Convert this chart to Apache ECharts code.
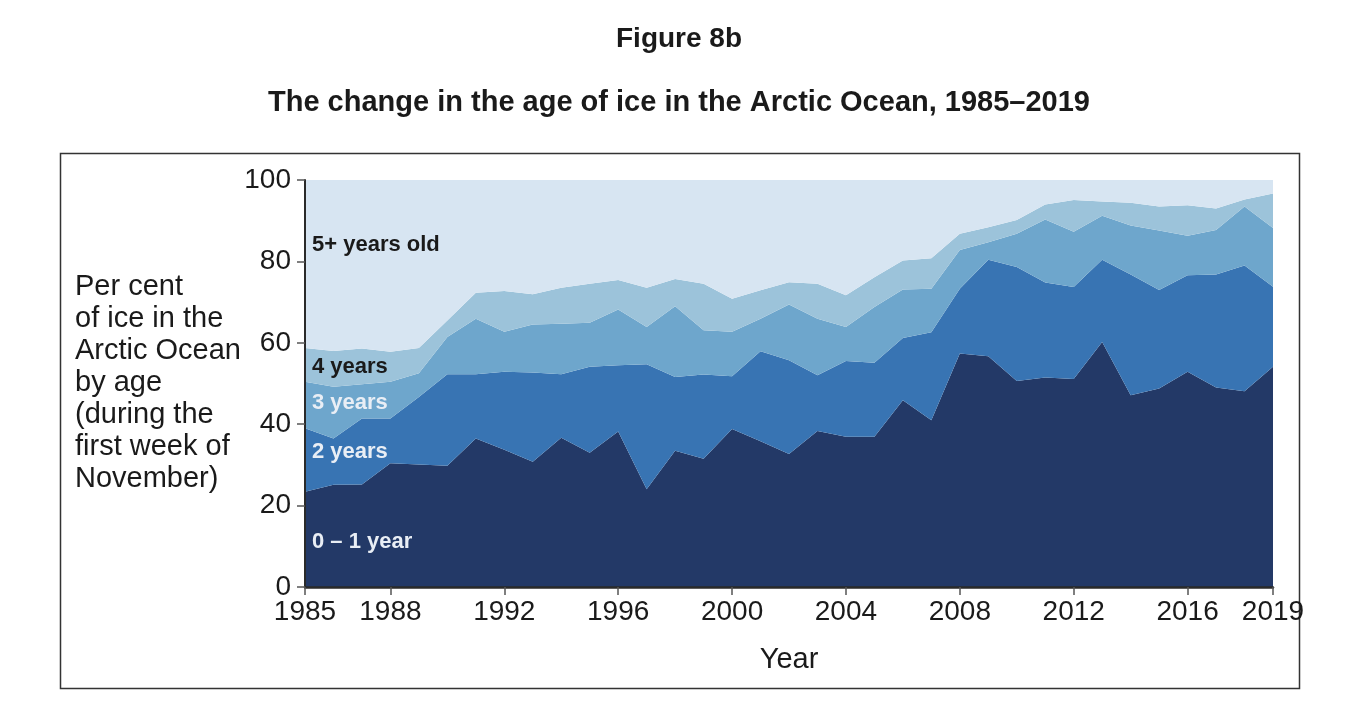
<!DOCTYPE html>
<html>
<head>
<meta charset="utf-8">
<script src="https://cdn.jsdelivr.net/npm/echarts@6/dist/echarts.min.js"></script>
<style>
  html, body { margin: 0; padding: 0; background: #fff; }
  #main { width: 1358px; height: 706px; }
</style>
</head>
<body>
<div id="main"></div>
<script>
var years = [];
for (var y = 1985; y <= 2019; y++) years.push(String(y));

var tickYears = ['1985', '1988', '1992', '1996', '2000', '2004', '2008', '2012', '2016', '2019'];

// per cent of ice by age (layer values, stacked bottom to top)
var age01 = [23.4, 25.1, 25.2, 30.4, 30.1, 29.8, 36.5, 33.7, 30.8, 36.7, 33.0, 38.2, 24.0, 33.5, 31.5, 38.8, 35.8, 32.7, 38.3, 36.9, 36.9, 45.9, 41.0, 57.4, 56.7, 50.6, 51.5, 51.1, 60.2, 47.1, 48.8, 52.9, 49.0, 48.1, 54.1];
var age2 = [15.6, 11.4, 16.2, 11.0, 16.6, 22.5, 15.8, 19.2, 21.9, 15.6, 21.1, 16.3, 30.7, 18.1, 20.7, 13.0, 22.1, 23.0, 13.7, 18.6, 18.2, 15.3, 21.6, 15.9, 23.7, 28.0, 23.3, 22.6, 20.2, 29.7, 24.2, 23.7, 27.8, 30.9, 19.7];
var age3 = [11.4, 12.7, 8.4, 9.0, 5.8, 9.1, 13.6, 9.8, 11.8, 12.4, 10.8, 13.7, 9.2, 17.4, 10.9, 10.9, 8.0, 13.7, 13.9, 8.4, 13.7, 11.9, 10.7, 9.5, 4.3, 8.2, 15.5, 13.6, 10.8, 12.0, 14.6, 9.7, 10.9, 14.5, 14.4];
var age4 = [8.3, 8.8, 8.8, 7.4, 6.2, 4.1, 6.4, 10.0, 7.4, 8.8, 9.6, 7.2, 9.6, 6.7, 11.4, 8.1, 7.0, 5.5, 8.6, 7.8, 7.3, 7.1, 7.5, 4.0, 3.7, 3.4, 3.7, 7.8, 3.5, 5.6, 5.9, 7.5, 5.3, 1.7, 8.5];
var age5 = [41.3, 42.0, 41.4, 42.2, 41.3, 34.5, 27.7, 27.3, 28.1, 26.5, 25.5, 24.6, 26.5, 24.3, 25.5, 29.2, 27.1, 25.1, 25.5, 28.3, 23.9, 19.8, 19.2, 13.2, 11.6, 9.8, 6.0, 4.9, 5.3, 5.6, 6.5, 6.2, 7.0, 4.8, 3.3];

var seriesNames = ['0 – 1 year', '2 years', '3 years', '4 years', '5+ years old'];
var seriesColors = ['#233967', '#3874b3', '#6ea6cc', '#9cc3da', '#d7e5f2'];
var seriesValues = [age01, age2, age3, age4, age5];

var chart = echarts.init(document.getElementById('main'));
var FONT = '"Liberation Sans", Arial, sans-serif';

function isTickYear(index, value) {
  return tickYears.indexOf(String(value)) !== -1;
}

var series = seriesValues.map(function (vals, i) {
  return {
    name: seriesNames[i],
    type: 'line',
    stack: 'ice',
    symbol: 'none',
    lineStyle: { width: 0 },
    areaStyle: { color: seriesColors[i], opacity: 1 },
    itemStyle: { color: seriesColors[i] },
    data: vals
  };
});

var option = {
  animation: false,
  backgroundColor: '#fff',
  textStyle: { fontFamily: FONT },
  title: [
    { text: 'Figure 8b', left: 'center', top: 20,
      textStyle: { fontSize: 28, fontWeight: 'bold', color: '#1a1a1a', fontFamily: FONT } },
    { text: 'The change in the age of ice in the Arctic Ocean, 1985–2019', left: 'center', top: 83,
      textStyle: { fontSize: 29, fontWeight: 'bold', color: '#1a1a1a', fontFamily: FONT } }
  ],
  grid: { left: 305, right: 85, top: 180, bottom: 119 },
  xAxis: {
    type: 'category',
    data: years,
    boundaryGap: false,
    z: 5,
    name: 'Year',
    nameLocation: 'middle',
    nameGap: 58,
    nameTextStyle: { fontSize: 29, color: '#1a1a1a', fontFamily: FONT },
    splitLine: { show: false },
    axisLine: { lineStyle: { color: '#2a2a2a', width: 2.5 } },
    axisTick: { show: true, length: 8, interval: isTickYear, lineStyle: { color: '#555', width: 1.5 } },
    axisLabel: { fontSize: 28, color: '#1a1a1a', margin: 11, interval: isTickYear, fontFamily: FONT }
  },
  yAxis: {
    type: 'value',
    min: 0,
    max: 100,
    interval: 20,
    z: 5,
    splitLine: { show: false },
    axisLine: { show: true, lineStyle: { color: '#2a2a2a', width: 2 } },
    axisTick: { show: true, length: 8, lineStyle: { color: '#555', width: 1.5 } },
    axisLabel: { fontSize: 28, color: '#1a1a1a', margin: 14, fontFamily: FONT }
  },
  graphic: [
    { type: 'rect', left: 58, top: 151, z: 0,
      shape: { width: 1239, height: 535 },
      style: { fill: 'none', stroke: '#333', lineWidth: 1.5 } },
    { type: 'text', left: 75, top: 271, z: 10,
      style: { text: 'Per cent\nof ice in the\nArctic Ocean\nby age\n(during the\nfirst week of\nNovember)',
               font: '29px ' + FONT, lineHeight: 32, fill: '#1a1a1a' } },
    { type: 'text', left: 312, top: 234, z: 10,
      style: { text: '5+ years old', font: 'bold 22px ' + FONT, fill: '#1a1a1a' } },
    { type: 'text', left: 312, top: 356, z: 10,
      style: { text: '4 years', font: 'bold 22px ' + FONT, fill: '#1a1a1a' } },
    { type: 'text', left: 312, top: 392, z: 10,
      style: { text: '3 years', font: 'bold 22px ' + FONT, fill: '#e9eef5' } },
    { type: 'text', left: 312, top: 441, z: 10,
      style: { text: '2 years', font: 'bold 22px ' + FONT, fill: '#e9eef5' } },
    { type: 'text', left: 312, top: 531, z: 10,
      style: { text: '0 – 1 year', font: 'bold 22px ' + FONT, fill: '#e9eef5' } }
  ],
  series: series
};

chart.setOption(option);
</script>
</body>
</html>
